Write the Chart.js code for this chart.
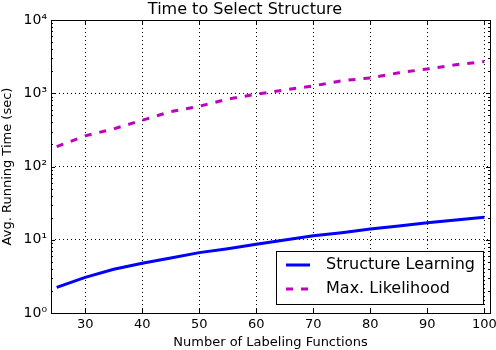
<!DOCTYPE html>
<html>
<head>
  <title>Time to Select Structure</title>
  <script src="https://cdn.jsdelivr.net/npm/chart.js/dist/chart.umd.js"></script>
  <style>
    body { margin: 0; background: #fff; }
    #wrap { width: 496px; height: 350px; }
  </style>
</head>
<body>
  <div id="wrap"><canvas id="time-chart"></canvas></div>
  <script>
    // number of labeling functions
    const numLFs = [25, 30, 35, 40, 45, 50, 55, 60, 65, 70, 75, 80, 85, 90, 95, 100];
    // avg running time (sec)
    const structLearning = [2.24, 3.07, 3.95, 4.77, 5.64, 6.67, 7.56, 8.67, 9.94, 11.3, 12.5, 14.0, 15.4, 17.1, 18.6, 20.3];
    const maxLikelihood = [187, 262, 326, 429, 560, 665, 830, 970, 1110, 1260, 1480, 1620, 1900, 2150, 2450, 2710];
    const xTicks = [30, 40, 50, 60, 70, 80, 90, 100];
    const yTicks = [1, 10, 100, 1000, 10000];
    const supers = ['⁰', '¹', '²', '³', '⁴'];

    const FONT = 'DejaVu Sans';

    // matplotlib-ish frame with inward ticks
    const frame = {
      id: 'frame',
      afterDraw(chart) {
        const { ctx, chartArea: a } = chart;
        const xs = chart.scales.x, ys = chart.scales.y;
        ctx.save();
        ctx.strokeStyle = '#000';
        ctx.lineWidth = 1;
        ctx.beginPath();
        xTicks.forEach(v => {
          const p = Math.round(xs.getPixelForValue(v)) + 0.5;
          ctx.moveTo(p, a.bottom); ctx.lineTo(p, a.bottom - 4);
          ctx.moveTo(p, a.top); ctx.lineTo(p, a.top + 4);
        });
        yTicks.forEach((v, i) => {
          const p = Math.round(ys.getPixelForValue(v)) + 0.5;
          ctx.moveTo(a.left, p); ctx.lineTo(a.left + 4, p);
          ctx.moveTo(a.right, p); ctx.lineTo(a.right - 4, p);
          if (i < yTicks.length - 1) {
            for (let m = 2; m < 10; m++) {
              const q = Math.round(ys.getPixelForValue(v * m)) + 0.5;
              ctx.moveTo(a.left, q); ctx.lineTo(a.left + 2, q);
              ctx.moveTo(a.right, q); ctx.lineTo(a.right - 2, q);
            }
          }
        });
        ctx.stroke();
        ctx.strokeRect(Math.round(a.left) + 0.5, Math.round(a.top) + 0.5,
          Math.round(a.right - a.left), Math.round(a.bottom - a.top));
        ctx.restore();
      }
    };

    // legend box in the lower right corner of the plot
    const boxLegend = {
      id: 'boxLegend',
      afterDraw(chart) {
        const { ctx, chartArea: a } = chart;
        ctx.save();
        ctx.font = '16px "' + FONT + '"';
        const sets = chart.data.datasets;
        const tw = Math.max(...sets.map(d => ctx.measureText(d.label).width));
        const w = 10 + 24 + 16 + tw + 8, h = 53;
        const x0 = a.right - 7 - w, y0 = a.bottom - 9 - h;
        ctx.fillStyle = '#fff';
        ctx.fillRect(x0, y0, w, h);
        ctx.strokeStyle = '#000';
        ctx.lineWidth = 1;
        ctx.strokeRect(Math.round(x0) + 0.5, Math.round(y0) + 0.5, Math.round(w), Math.round(h));
        sets.forEach((d, i) => {
          const yy = y0 + 14 + i * 24;
          ctx.strokeStyle = d.borderColor;
          ctx.lineWidth = d.borderWidth;
          ctx.setLineDash(d.borderDash || []);
          ctx.beginPath();
          ctx.moveTo(x0 + 10, yy); ctx.lineTo(x0 + 34, yy);
          ctx.stroke();
          ctx.setLineDash([]);
          ctx.fillStyle = '#000';
          ctx.textBaseline = 'middle';
          ctx.fillText(d.label, x0 + 50, yy);
        });
        ctx.restore();
      }
    };

    const ctx = document.getElementById('time-chart').getContext('2d');
    new Chart(ctx, {
      type: 'line',
      data: {
        datasets: [
          {
            label: 'Structure Learning',
            data: numLFs.map((n, i) => ({ x: n, y: structLearning[i] })),
            borderColor: '#0000ff',
            borderWidth: 3,
            pointRadius: 0,
            fill: false,
          },
          {
            label: 'Max. Likelihood',
            data: numLFs.map((n, i) => ({ x: n, y: maxLikelihood[i] })),
            borderColor: '#bf00bf',
            borderWidth: 3,
            borderDash: [7, 8],
            pointRadius: 0,
            fill: false,
          },
        ],
      },
      plugins: [frame, boxLegend],
      options: {
        responsive: true,
        maintainAspectRatio: false,
        animation: false,
        layout: { padding: { right: 6, top: 0 } },
        plugins: {
          legend: { display: false },
          tooltip: { enabled: false },
          title: {
            display: true,
            text: 'Time to Select Structure',
            color: '#000',
            font: { family: FONT, size: 16, weight: 'normal', lineHeight: 1.2 },
            padding: { top: 0, bottom: 0.8 },
          },
        },
        scales: {
          x: {
            type: 'linear',
            min: 24,
            max: 101,
            afterBuildTicks: s => { s.ticks = xTicks.map(v => ({ value: v })); },
            afterFit: s => { s.height = 37; s.paddingLeft = 0; s.paddingRight = 0; },
            grid: { color: '#000', lineWidth: 1, drawTicks: false },
            border: { display: false, dash: [1, 3] },
            ticks: { color: '#000', padding: 4, maxRotation: 0, font: { family: FONT, size: 13 } },
            title: {
              display: true,
              text: 'Number of Labeling Functions',
              color: '#000',
              font: { family: FONT, size: 13 },
              padding: { top: 0, bottom: 0 },
            },
          },
          y: {
            type: 'logarithmic',
            min: 1,
            max: 10000,
            afterBuildTicks: s => { s.ticks = yTicks.map(v => ({ value: v })); },
            afterFit: s => { s.width = 51; s.paddingTop = 0; s.paddingBottom = 0; },
            grid: { color: '#000', lineWidth: 1, drawTicks: false },
            border: { display: false, dash: [1, 3] },
            ticks: {
              color: '#000',
              padding: 4,
              font: { family: FONT, size: 14 },
              callback: v => '10' + supers[Math.round(Math.log10(v))],
            },
            title: {
              display: true,
              text: 'Avg. Running Time (sec)',
              color: '#000',
              font: { family: FONT, size: 13 },
              padding: { top: 0, bottom: 0 },
            },
          },
        },
      },
    });
  </script>
</body>
</html>
